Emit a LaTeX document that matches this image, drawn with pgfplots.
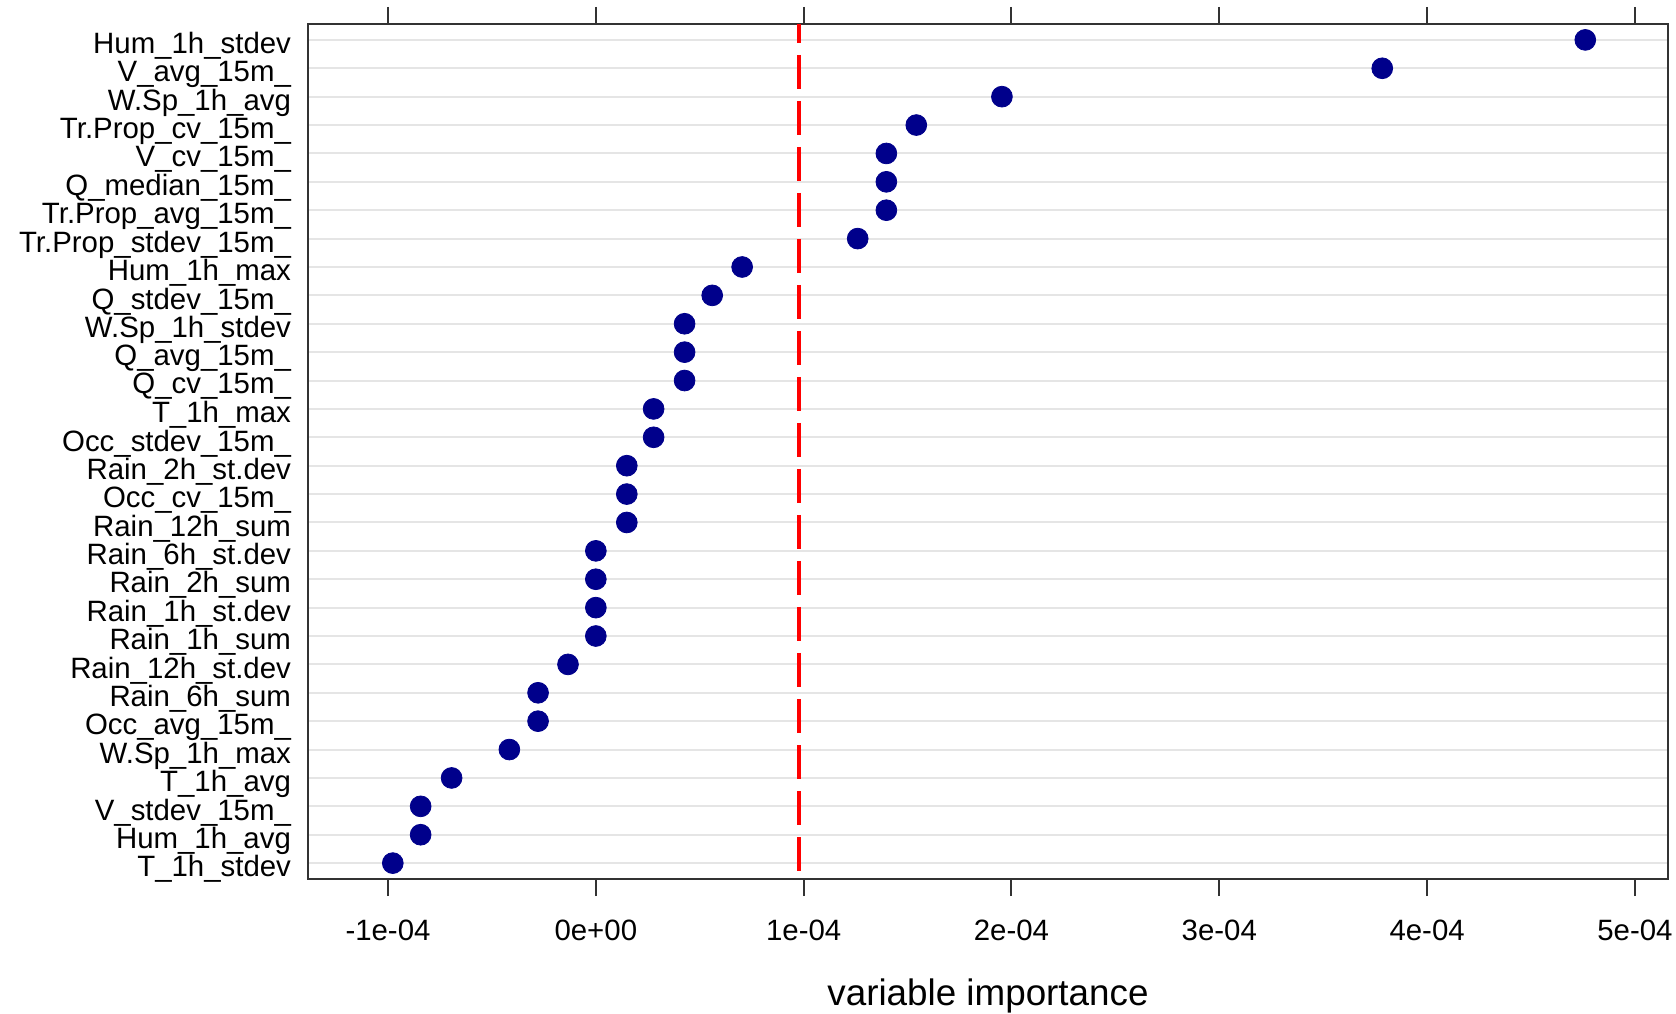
\documentclass[border=0pt]{standalone}
\usepackage{pgfplots}
\pgfplotsset{compat=1.18}
\usepackage{fontspec}
\setmainfont{Liberation Sans}
\definecolor{dotblue}{RGB}{0,0,139}
\definecolor{boxgray}{RGB}{51,51,51}

% importance values (rank 1 = bottom row)
\pgfplotstableread{
rank imp
1  -0.977e-4
2  -0.843e-4
3  -0.843e-4
4  -0.694e-4
5  -0.416e-4
6  -0.278e-4
7  -0.278e-4
8  -0.134e-4
9   0
10  0
11  0
12  0
13  0.149e-4
14  0.149e-4
15  0.149e-4
16  0.278e-4
17  0.278e-4
18  0.427e-4
19  0.427e-4
20  0.427e-4
21  0.560e-4
22  0.704e-4
23  1.260e-4
24  1.398e-4
25  1.398e-4
26  1.398e-4
27  1.542e-4
28  1.954e-4
29  3.784e-4
30  4.761e-4
}\impdata

\begin{document}
\begin{tikzpicture}
\begin{axis}[
    at={(0,0)}, anchor=south west,
    scale only axis, width=680pt, height=427.5pt,
    xmin=-1.385e-4, xmax=5.159e-4,
    ymin=0.44, ymax=30.56,
    scaled x ticks=false,
    xtick={-1e-4,0,1e-4,2e-4,3e-4,4e-4,5e-4},
    xticklabels={-1e-04,0e+00,1e-04,2e-04,3e-04,4e-04,5e-04},
    xtick pos=both, xticklabel pos=lower,
    xtick align=outside,
    major tick length=8.5pt,
    xtick style={boxgray, line width=1pt},
    ytick={1,...,30},
    yticklabels={T\_1h\_stdev,Hum\_1h\_avg,V\_stdev\_15m\_,T\_1h\_avg,W.Sp\_1h\_max,
      Occ\_avg\_15m\_,Rain\_6h\_sum,Rain\_12h\_st.dev,Rain\_1h\_sum,Rain\_1h\_st.dev,
      Rain\_2h\_sum,Rain\_6h\_st.dev,Rain\_12h\_sum,Occ\_cv\_15m\_,Rain\_2h\_st.dev,
      Occ\_stdev\_15m\_,T\_1h\_max,Q\_cv\_15m\_,Q\_avg\_15m\_,W.Sp\_1h\_stdev,
      Q\_stdev\_15m\_,Hum\_1h\_max,Tr.Prop\_stdev\_15m\_,Tr.Prop\_avg\_15m\_,Q\_median\_15m\_,
      V\_cv\_15m\_,Tr.Prop\_cv\_15m\_,W.Sp\_1h\_avg,V\_avg\_15m\_,Hum\_1h\_stdev},
    ytick style={draw=none},
    ymajorgrids,
    major grid style={gray!20, line width=1pt},
    axis line style={boxgray, line width=1pt},
    tick label style={font=\fontsize{14.7}{14.7}\selectfont},
    yticklabel style={xshift=-5pt, yshift=-3pt},
    xticklabel style={yshift=-8.3pt},
    xlabel={variable importance},
    xlabel style={font=\fontsize{18.4}{18.4}\selectfont, at={(axis description cs:0.5,0)},
      anchor=center, yshift=-58.5pt},
]
\draw[red, line width=2pt, dash pattern=on 17pt off 6pt, dash phase=7.5pt]
    (axis cs:0.978e-4,30.56) -- (axis cs:0.978e-4,0.44);
\addplot[only marks, mark=*, mark size=5.2pt, dotblue, mark options={fill=dotblue, draw=dotblue}]
    table[x=imp, y=rank] {\impdata};
\end{axis}
\pgfresetboundingbox
\path[use as bounding box] (-154pt,-67pt) rectangle (684pt,439.5pt);
\end{tikzpicture}
\end{document}
